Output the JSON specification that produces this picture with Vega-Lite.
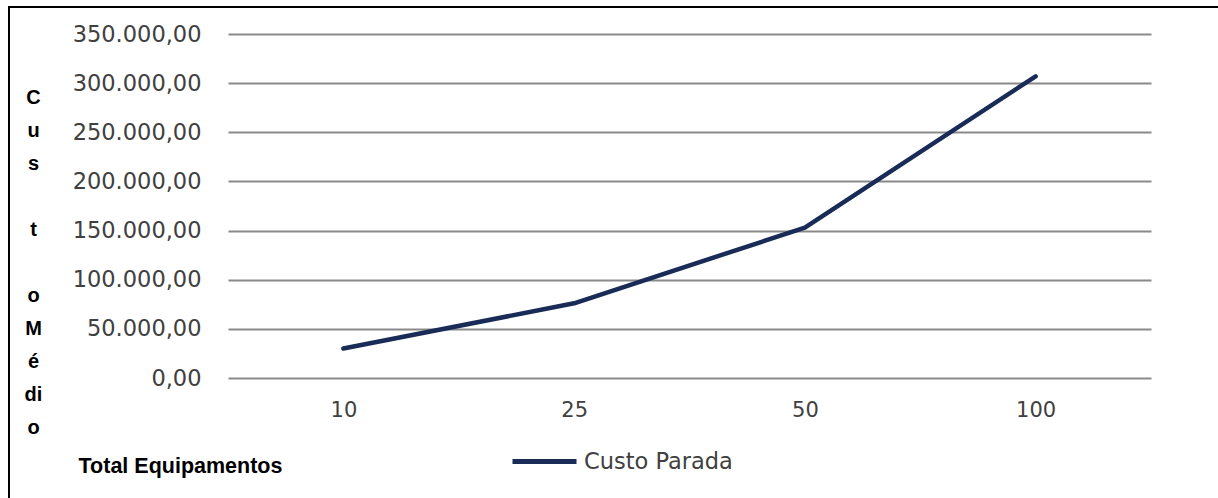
{
  "$schema": "https://vega.github.io/schema/vega-lite/v6.json",
  "autosize": "none",
  "padding": {"left": 9, "top": 7, "right": 0, "bottom": 0},
  "width": 1209,
  "height": 491,
  "background": "white",
  "config": {
    "locale": {
      "number": {"decimal": ",", "thousands": ".", "grouping": [3], "currency": ["R$ ", ""]}
    },
    "view": {"stroke": "#000000", "strokeWidth": 2, "strokeDash": [1209, 1700, 491]}
  },
  "data": {
    "values": [
      {"equipamentos": "10", "custo": 30000, "serie": "Custo Parada"},
      {"equipamentos": "25", "custo": 76000, "serie": "Custo Parada"},
      {"equipamentos": "50", "custo": 153000, "serie": "Custo Parada"},
      {"equipamentos": "100", "custo": 307000, "serie": "Custo Parada"}
    ]
  },
  "mark": {"type": "line", "strokeWidth": 4.5, "strokeCap": "round", "strokeJoin": "round"},
  "encoding": {
    "x": {
      "field": "equipamentos",
      "type": "ordinal",
      "sort": ["10", "25", "50", "100"],
      "scale": {"type": "point", "range": [219, 1142], "padding": 0.5},
      "axis": {
        "orient": "bottom",
        "offset": -120,
        "domain": false,
        "ticks": false,
        "grid": false,
        "labelAngle": 0,
        "labelPadding": 21,
        "labelFont": "DejaVu Sans",
        "labelFontSize": 21,
        "labelColor": "#404040",
        "title": "Total Equipamentos",
        "titleFont": "Liberation Sans",
        "titleFontWeight": "bold",
        "titleFontSize": 21.5,
        "titleColor": "#000000",
        "titleX": 171,
        "titleY": 94,
        "titleAlign": "center",
        "titleBaseline": "alphabetic"
      }
    },
    "y": {
      "field": "custo",
      "type": "quantitative",
      "scale": {"domain": [0, 350000], "range": [371, 27], "nice": false},
      "axis": {
        "orient": "left",
        "offset": -219,
        "values": [0, 50000, 100000, 150000, 200000, 250000, 300000, 350000],
        "format": ",.2f",
        "domain": false,
        "ticks": false,
        "grid": true,
        "gridColor": "#8a8a8a",
        "gridWidth": 2,
        "labelPadding": 27,
        "labelFont": "DejaVu Sans",
        "labelFontSize": 22.5,
        "labelColor": "#404040",
        "title": ["C", "u", "s", "\u200b", "t", "\u200b", "o", "M", "é", "di", "o"],
        "titleAngle": 0,
        "titleX": -195,
        "titleY": 90,
        "titleAlign": "center",
        "titleBaseline": "middle",
        "titleLineHeight": 33,
        "titleFont": "Liberation Sans",
        "titleFontWeight": "bold",
        "titleFontSize": 20,
        "titleColor": "#000000"
      }
    },
    "color": {
      "field": "serie",
      "type": "nominal",
      "scale": {"range": ["#182c57"]},
      "legend": {
        "orient": "none",
        "legendX": 501,
        "legendY": 420,
        "title": null,
        "padding": 0,
        "symbolType": "stroke",
        "symbolSize": 4096,
        "symbolStrokeWidth": 5,
        "labelFont": "DejaVu Sans",
        "labelFontSize": 22.5,
        "labelColor": "#404040",
        "labelOffset": 5
      }
    }
  }
}
